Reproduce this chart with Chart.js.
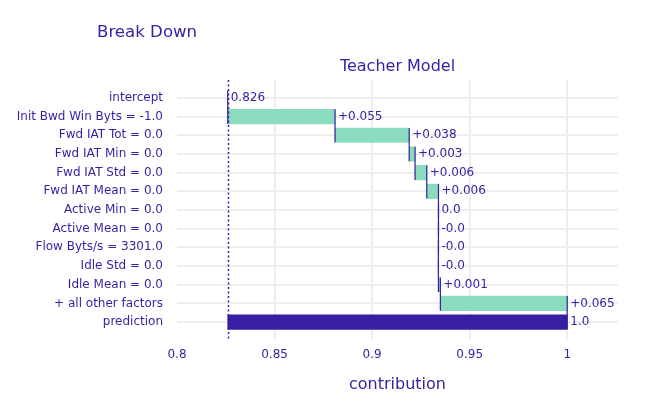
<!DOCTYPE html>
<html lang="en">
<head>
  <meta charset="UTF-8">
  <title>Break Down</title>
  <script src="https://cdn.jsdelivr.net/npm/chart.js"></script>
  <style>
    html, body { margin: 0; padding: 0; background: #fff; }
    #wrap { width: 648px; height: 413px; }
  </style>
</head>
<body>
  <div id="wrap"><canvas id="bdChart"></canvas></div>

  <script>
    const features = [
      'intercept', 'Init Bwd Win Byts = -1.0', 'Fwd IAT Tot = 0.0', 'Fwd IAT Min = 0.0',
      'Fwd IAT Std = 0.0', 'Fwd IAT Mean = 0.0', 'Active Min = 0.0', 'Active Mean = 0.0',
      'Flow Byts/s = 3301.0', 'Idle Std = 0.0', 'Idle Mean = 0.0', '+ all other factors', 'prediction'
    ];
    const intercept = 0.826;
    const contributions = [0.055, 0.038, 0.003, 0.006, 0.006, 0.0, -0.00001, -0.00001, -0.00001, 0.001, 0.065];
    const prediction = 1.0;
    const valueLabels = ['0.826', '+0.055', '+0.038', '+0.003', '+0.006', '+0.006', '0.0', '-0.0', '-0.0', '-0.0', '+0.001', '+0.065', '1.0'];
    const xTicks = [0.8, 0.85, 0.9, 0.95, 1];

    const INK = '#371ea3';
    const FONT = "'DejaVu Sans', Verdana, sans-serif";

    // floating bars: start/end of each row
    const rows = [];
    let cum = intercept;
    rows.push({ y: 0, x: [intercept, intercept] });
    contributions.forEach((c, i) => {
      rows.push({ y: i + 1, x: [cum, cum + c] });
      cum += c;
    });
    rows.push({ y: features.length - 1, x: [intercept, prediction] });

    const colors = rows.map((r, i) => {
      if (i === rows.length - 1) return INK;
      return r.x[1] >= r.x[0] ? '#8bdcbe' : '#f05a71';
    });

    const extras = {
      id: 'extras',
      afterDatasetsDraw(chart) {
        const ctx = chart.ctx;
        const xs = chart.scales.x, ys = chart.scales.y;
        const area = chart.chartArea;
        const half = 7.3;
        ctx.save();
        // dotted intercept line
        ctx.strokeStyle = INK;
        ctx.lineWidth = 1.5;
        ctx.setLineDash([2, 2.5]);
        const xi = Math.round(xs.getPixelForValue(intercept)) + 0.5;
        ctx.beginPath();
        ctx.moveTo(xi, area.top);
        ctx.lineTo(xi, area.bottom);
        ctx.stroke();
        ctx.setLineDash([]);
        // connectors
        ctx.lineWidth = 1.2;
        for (let i = 0; i < rows.length - 1; i++) {
          const px = xs.getPixelForValue(rows[i].x[1]);
          ctx.beginPath();
          ctx.moveTo(px, ys.getPixelForValue(i) - half);
          ctx.lineTo(px, ys.getPixelForValue(i + 1) + half);
          ctx.stroke();
        }
        // value labels
        ctx.fillStyle = INK;
        ctx.font = '12px ' + FONT;
        ctx.textBaseline = 'middle';
        ctx.textAlign = 'left';
        rows.forEach((r, i) => {
          const end = Math.max(r.x[0], r.x[1]);
          ctx.fillText(valueLabels[i], xs.getPixelForValue(end) + 3, ys.getPixelForValue(i));
        });
        ctx.restore();
      },
      afterDraw(chart) {
        const ctx = chart.ctx;
        const area = chart.chartArea;
        ctx.save();
        ctx.fillStyle = INK;
        ctx.textBaseline = 'middle';
        ctx.font = '16.6px ' + FONT;
        ctx.textAlign = 'left';
        ctx.fillText('Break Down', 97, 33);
        ctx.font = '16px ' + FONT;
        ctx.textAlign = 'center';
        ctx.fillText('Teacher Model', (area.left + area.right) / 2, 67);
        ctx.restore();
      }
    };

    new Chart(document.getElementById('bdChart'), {
      type: 'bar',
      data: {
        datasets: [{
          data: rows,
          backgroundColor: colors,
          borderWidth: 0,
          barThickness: 14.5
        }]
      },
      options: {
        indexAxis: 'y',
        responsive: true,
        maintainAspectRatio: false,
        animation: false,
        layout: { padding: { top: 80, right: 30, left: 0, bottom: 0 } },
        plugins: {
          legend: { display: false },
          tooltip: { enabled: false }
        },
        scales: {
          x: {
            type: 'linear',
            min: 0.8,
            max: 1.026,
            afterBuildTicks(scale) {
              scale.ticks = xTicks.map(v => ({ value: v }));
            },
            afterFit(scale) { scale.height = 73; },
            ticks: {
              color: INK,
              font: { family: FONT, size: 12 },
              padding: 8,
              callback: v => String(v)
            },
            grid: {
              color: ctx => (ctx.tick && ctx.tick.value === xTicks[0]) ? 'rgba(0,0,0,0)' : '#eeeeee',
              lineWidth: 2,
              drawTicks: false
            },
            border: { display: false },
            title: {
              display: true,
              text: 'contribution',
              color: INK,
              font: { family: FONT, size: 16 },
              padding: { top: 0, bottom: 19 }
            }
          },
          y: {
            type: 'linear',
            reverse: true,
            offset: false,
            min: -0.96,
            max: 12.96,
            afterFit(scale) { scale.width = 177; },
            afterBuildTicks(scale) {
              scale.ticks = features.map((f, i) => ({ value: i }));
            },
            ticks: {
              color: INK,
              font: { family: FONT, size: 12 },
              padding: 14,
              autoSkip: false,
              callback: v => features[v]
            },
            grid: { color: '#eeeeee', lineWidth: 2, drawTicks: false, offset: false },
            border: { display: false }
          }
        }
      },
      plugins: [extras]
    });
  </script>
</body>
</html>
